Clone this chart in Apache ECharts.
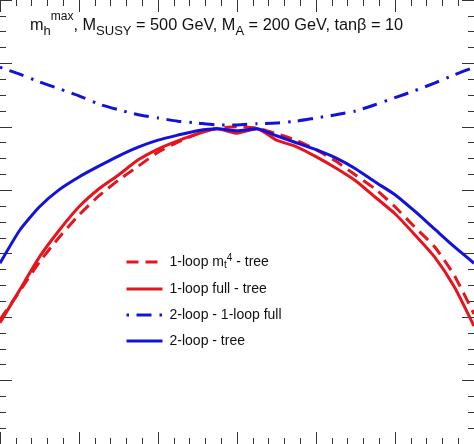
<!DOCTYPE html>
<html>
<head>
<meta charset="utf-8">
<script src="https://cdn.jsdelivr.net/npm/echarts@6.0.0/dist/echarts.min.js"></script>
<style>
  html, body { margin: 0; padding: 0; background: #fff; }
  #chart { width: 474px; height: 444px; }
</style>
</head>
<body>
<div id="chart"></div>
<script>
// ---- data ----
const xValues = [-3, -2.75, -2.5, -2.25, -2, -1.75, -1.5, -1.25, -1, -0.75, -0.5, -0.25, 0,
                 0.25, 0.5, 0.75, 1, 1.25, 1.5, 1.75, 2, 2.25, 2.5, 2.75, 3];
const oneLoopMt4Tree = [19.6, 24.1, 28.7, 32.6, 36.1, 39.1, 41.6, 43.8, 46.0, 47.6, 48.9, 49.8, 50.0,
                        49.8, 48.9, 47.9, 46.4, 44.6, 42.4, 40.2, 37.4, 34.2, 31.1, 26.6, 20.5];
const oneLoopFullTree = [19.1, 24.3, 29.5, 33.7, 37.4, 40.2, 42.4, 44.8, 46.5, 47.8, 48.9, 49.7, 49.0,
                         49.7, 47.9, 46.9, 45.3, 43.5, 41.5, 38.9, 36.3, 33.0, 29.5, 24.8, 18.6];
const twoLoopOneLoopFull = [59.4, 58.3, 57.1, 56.0, 54.9, 53.6, 52.7, 51.9, 51.4, 50.9, 50.6, 50.3, 50.3,
                            50.5, 50.6, 50.9, 51.4, 51.9, 52.5, 53.5, 54.6, 55.7, 56.9, 58.2, 59.4];
const twoLoopTree = [28.5, 33.7, 37.4, 40.1, 42.1, 43.8, 45.4, 46.8, 47.9, 48.7, 49.4, 49.7, 49.4,
                     49.7, 48.6, 47.5, 46.4, 45.1, 43.4, 41.3, 39.3, 36.7, 33.9, 31.1, 28.5];
const seriesNames = ['1-loop mt4 - tree', '1-loop full - tree', '2-loop - 1-loop full', '2-loop - tree'];
const titleParts = [
  ['m', 'n'], ['h', 'sub'], ['max', 'sup'], [', M', 'n'], ['SUSY', 'sub'],
  [' = 500 GeV, M', 'n'], ['A', 'sub'], [' = 200 GeV, tanβ = 10', 'n']
];

// ---- styling ----
const RED = '#e6141c';
const BLUE = '#1212dc';
const FONT = '"Liberation Sans", Arial, sans-serif';

function pairs(ys) { return xValues.map((x, i) => [x, ys[i]]); }

// title built from measured pieces
const meas = document.createElement('canvas').getContext('2d');
const partStyle = {
  n:   { size: 16.3, base: 31 },
  sub: { size: 13, base: 36 },
  sup: { size: 12, base: 21 }
};
let cx = 30;
const titleGraphics = titleParts.map(([t, kind]) => {
  const st = partStyle[kind];
  const font = st.size + 'px ' + FONT;
  meas.font = font;
  const w = meas.measureText(t).width;
  const el = {
    type: 'text', x: cx, y: st.base - 0.35 * st.size,
    style: { text: t, font: font, fill: '#111', textAlign: 'left', textVerticalAlign: 'middle' }
  };
  cx += w;
  return el;
});

const tickColor = '#333';
function xAxisDef(pos) {
  return {
    type: 'value', position: pos, min: -3, max: 3, interval: 1,
    axisLine: { show: false, onZero: false },
    axisLabel: { show: false },
    splitLine: { show: false },
    axisTick: { show: true, inside: true, length: 12, lineStyle: { color: tickColor, width: 1 } },
    minorTick: { show: true, splitNumber: 5, length: 6, lineStyle: { color: tickColor, width: 1 } }
  };
}
function yAxisDef(pos) {
  return {
    type: 'value', position: pos, min: 0, max: 70, interval: 10,
    axisLine: { show: false, onZero: false },
    axisLabel: { show: false },
    splitLine: { show: false },
    axisTick: { show: true, inside: true, length: 12, lineStyle: { color: tickColor, width: 1 } },
    minorTick: { show: true, splitNumber: 4, length: 6, lineStyle: { color: tickColor, width: 1 } }
  };
}

const chart = echarts.init(document.getElementById('chart'), null, { renderer: 'canvas' });
chart.setOption({
  animation: false,
  backgroundColor: '#fff',
  grid: { left: 0, right: 0, top: 0, bottom: 0, containLabel: false },
  xAxis: [xAxisDef('bottom'), xAxisDef('top')],
  yAxis: [yAxisDef('left'), yAxisDef('right')],
  legend: {
    orient: 'vertical', left: 125, top: 253, padding: 0,
    itemWidth: 36, itemHeight: 16, itemGap: 10,
    data: seriesNames,
    itemStyle: { color: 'rgba(0,0,0,0)', borderWidth: 0, opacity: 0 },
    lineStyle: { width: 3 },
    formatter: function (name) {
      return name === seriesNames[0] ? '1-loop m{sub|t}{sup|4} - tree' : name;
    },
    textStyle: {
      fontFamily: FONT, fontSize: 14, color: '#111', lineHeight: 16, padding: [0, 0, 0, 2],
      rich: {
        sub: { fontFamily: FONT, fontSize: 10, color: '#111', lineHeight: 16, padding: [6, 0, 0, 0] },
        sup: { fontFamily: FONT, fontSize: 10, color: '#111', lineHeight: 16, padding: [0, 0, 8, 0] }
      }
    }
  },
  graphic: titleGraphics,
  series: [
    {
      name: seriesNames[0], type: 'line', data: pairs(oneLoopMt4Tree), symbol: 'none', smooth: 0.2,
      lineStyle: { color: RED, width: 3, type: [12, 7] }, itemStyle: { color: RED }, z: 3
    },
    {
      name: seriesNames[1], type: 'line', data: pairs(oneLoopFullTree), symbol: 'none', smooth: 0.2,
      lineStyle: { color: RED, width: 3, type: 'solid' }, itemStyle: { color: RED }, z: 3
    },
    {
      name: seriesNames[2], type: 'line', data: pairs(twoLoopOneLoopFull), symbol: 'none', smooth: 0.2,
      lineStyle: { color: BLUE, width: 3, type: [2.5, 7.5, 15, 8] }, itemStyle: { color: BLUE }, z: 3
    },
    {
      name: seriesNames[3], type: 'line', data: pairs(twoLoopTree), symbol: 'none', smooth: 0.2,
      lineStyle: { color: BLUE, width: 3, type: 'solid' }, itemStyle: { color: BLUE }, z: 3
    }
  ]
});
</script>
</body>
</html>
